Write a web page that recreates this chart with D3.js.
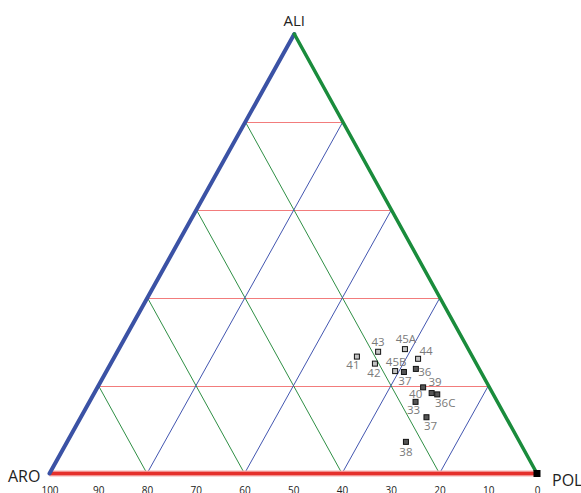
<!DOCTYPE html>
<html><head><meta charset="utf-8">
<script src="https://cdn.jsdelivr.net/npm/d3@7"></script>
<style>
html,body{margin:0;padding:0;background:#fff;overflow:hidden;}
svg{display:block;font-family:"Open Sans","DejaVu Sans",sans-serif;}
</style></head>
<body>
<svg id="chart" width="581" height="493"></svg>
<script>
// ---- data ----
const sampleLabels = ["41","43","45A","44","42","45B","37","36","39","40","36C","33","37","38"];
const aroValues    = [23.7, 18.8, 13.0, 11.4, 20.8, 17.5, 15.8, 13.0, 13.6, 12.5, 11.5, 16.8, 16.3, 23.3];
const aliValues    = [26.6, 27.7, 28.3, 26.1, 25.0, 23.3, 23.1, 23.8, 19.6, 18.3, 18.0, 16.3, 12.8, 7.2];
const polValues    = [49.7, 53.5, 58.7, 62.5, 54.2, 59.2, 61.1, 63.2, 66.8, 69.2, 70.5, 66.9, 70.9, 69.5];
const sampleGroup  = ["light","light","light","light","light","light","dark","dark","dark","dark","dark","dark","dark","dark"];
const vertexPoint  = {aro: 0, ali: 0, pol: 100};
const gridLevels   = [20, 40, 60, 80];
const bottomTicks  = [100, 90, 80, 70, 60, 50, 40, 30, 20, 10, 0];

// ---- layout ----
const svg = d3.select("#chart");
const baseY = 473.5, apexY = 34, leftX = 49.5, rightX = 537, apexX = 294.3;
const yScale = d3.scaleLinear().domain([0, 100]).range([baseY, apexY]);      // ALI
const aroScale = d3.scaleLinear().domain([100, 0]).range([leftX, rightX]);   // ARO along bottom
const polScale = d3.scaleLinear().domain([0, 100]).range([0, rightX - leftX]);
const aliShift = d3.scaleLinear().domain([0, 100]).range([0, apexX - leftX]);
function proj(aro, ali, pol) {
  const s = aro + ali + pol;
  ali = ali / s * 100; pol = pol / s * 100;
  return [leftX + aliShift(ali) + polScale(pol), yScale(ali)];
}
const line = d3.line();

const gGrid = svg.append("g");
// red: constant ALI
gridLevels.forEach(v => {
  const a = proj(100 - v, v, 0), b = proj(0, v, 100 - v);
  const y = Math.round(a[1]) + 0.5;
  gGrid.append("path").attr("d", line([[a[0], y], [b[0], y]]))
    .attr("stroke", "#f27c7c").attr("stroke-width", 1.2).attr("fill", "none");
});
// green: constant ARO
gridLevels.forEach(v => {
  gGrid.append("path").attr("d", line([proj(v, 0, 100 - v), proj(v, 100 - v, 0)]))
    .attr("stroke", "#2f8f45").attr("stroke-width", 1).attr("fill", "none");
});
// blue: constant POL
gridLevels.forEach(v => {
  gGrid.append("path").attr("d", line([proj(100 - v, 0, v), proj(0, 100 - v, v)]))
    .attr("stroke", "#4356b0").attr("stroke-width", 1).attr("fill", "none");
});

// edges
const A = proj(100, 0, 0), L = proj(0, 100, 0), P = proj(0, 0, 100);
svg.append("path").attr("d", line([A, P])).attr("stroke", "#f6b0b0").attr("stroke-width", 6).attr("fill", "none");
svg.append("path").attr("d", line([A, P])).attr("stroke", "#e5302c").attr("stroke-width", 3.5).attr("fill", "none");
svg.append("path").attr("d", line([A, L])).attr("stroke", "#3b52a5").attr("stroke-width", 4).attr("fill", "none").attr("stroke-linecap", "round");
svg.append("path").attr("d", line([L, P])).attr("stroke", "#1a8c3c").attr("stroke-width", 3.5).attr("fill", "none").attr("stroke-linecap", "round");

// vertex labels
svg.append("text").attr("x", apexX).attr("y", 26).attr("text-anchor", "middle")
  .attr("font-size", 15).attr("fill", "#222").text("ALI");
svg.append("text").attr("x", 8).attr("y", 482).attr("font-size", 16).attr("fill", "#222").text("ARO");
svg.append("text").attr("x", 552).attr("y", 486).attr("font-size", 16).attr("fill", "#222").text("POL");

// bottom axis
const axis = d3.axisBottom(aroScale).tickValues(bottomTicks).tickSize(0).tickPadding(0);
const gAxis = svg.append("g").attr("transform", `translate(0,${baseY + 13})`).call(axis);
gAxis.select(".domain").remove();
gAxis.selectAll("text").attr("font-size", 10).attr("fill", "#222").attr("font-family", "Open Sans, DejaVu Sans, sans-serif");

// points
const data = sampleLabels.map((l, i) => ({label: l, aro: aroValues[i], ali: aliValues[i], pol: polValues[i], group: sampleGroup[i]}));
// label offsets (layout only)
const labelOffsets = [[-4, 12], [0, -6], [1, -6], [8, -4], [-1, 13], [1, -5], [1, 13], [9, 7], [12, -1], [-16, 5], [8, 13], [-2, 12], [4, 13], [0, 14]];
const gPts = svg.append("g");
data.forEach((d, i) => {
  const [x, y] = proj(d.aro, d.ali, d.pol);
  gPts.append("rect").attr("x", x - 2.5).attr("y", y - 2.5).attr("width", 5).attr("height", 5)
    .attr("fill", d.group === "light" ? "#c4c4c4" : "#555").attr("stroke", "#111").attr("stroke-width", 1);
  gPts.append("text").attr("x", x + labelOffsets[i][0]).attr("y", y + labelOffsets[i][1])
    .attr("text-anchor", "middle").attr("font-size", 11.5).attr("fill", "#7a7a7a").text(d.label);
});
const vp = proj(vertexPoint.aro, vertexPoint.ali, vertexPoint.pol);
gPts.append("rect").attr("x", vp[0] - 3.5).attr("y", vp[1] - 3.5).attr("width", 7).attr("height", 7).attr("fill", "#000");
</script>
</body></html>
